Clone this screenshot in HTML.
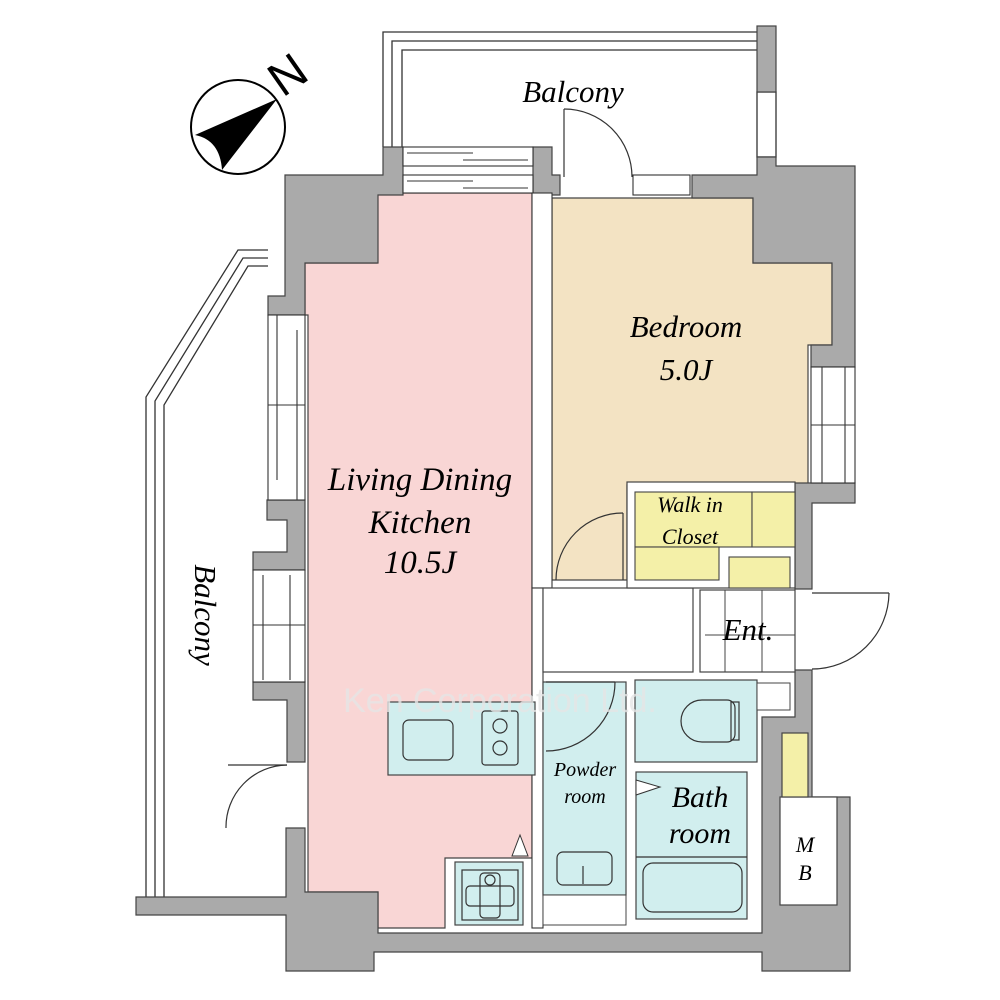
<!DOCTYPE html>
<html><head><meta charset="utf-8"><style>html,body{margin:0;padding:0;background:#fff}svg{display:block}</style></head>
<body>
<svg width="1000" height="1000" viewBox="0 0 1000 1000" xmlns="http://www.w3.org/2000/svg" font-family="'Liberation Serif',serif" font-style="italic">
<rect width="1000" height="1000" fill="#fff"/>
<g fill="none" stroke="#333" stroke-width="1.3">
<!-- top balcony lines -->
<polyline points="383,147 383,32 757,32"/>
<polyline points="392,147 392,41 757,41"/>
<polyline points="402,147 402,50 757,50"/>
<rect x="757" y="92" width="19" height="65" fill="#fff"/>
<!-- left balcony -->
<polyline points="268,250 238,250 146,397 146,897"/>
<polyline points="268,258 243,258 155,401 155,897"/>
<polyline points="268,266 248,266 164,405 164,897"/>
</g>
<!-- rooms -->
<polygon points="377,193 532,193 532,858 445,858 445,928 378,928 378,892 308,892 308,315 305,315 305,263 377,263" fill="#f9d6d5" stroke="#444" stroke-width="1.2"/>
<polygon points="552,198 753,198 753,263 832,263 832,345 808,345 808,485 627,485 627,580 552,580" fill="#f3e3c3" stroke="#444" stroke-width="1.2"/>
<!-- walls -->
<g fill="#aaa" stroke="#444" stroke-width="1.2">
<polygon points="285,175 383,175 383,147 403,147 403,195 378,195 378,263 305,263 305,315 268,315 268,296 285,296"/>
<polygon points="533,147 552,147 552,175 560,175 560,195 533,195"/>
<rect x="757" y="26" width="19" height="66"/>
<polygon points="692,175 757,175 757,157 776,157 776,166 855,166 855,367 811,367 811,345 832,345 832,263 753,263 753,198 692,198"/>
<polygon points="795,483 855,483 855,503 812,503 812,589 795,589"/>
<polygon points="795,670 812,670 812,797 850,797 850,971 762,971 762,952 374,952 374,971 286,971 286,915 136,915 136,897 286,897 286,828 305,828 305,892 378,892 378,933 762,933 762,717 795,717"/>
<polygon points="267,500 305,500 305,570 253,570 253,552 287,552 287,520 267,520"/>
<polygon points="253,682 305,682 305,762 287,762 287,700 253,700"/>
</g>
<!-- MB -->
<rect x="780" y="797" width="57" height="108" fill="#fff" stroke="#444" stroke-width="1.2"/>
<rect x="782" y="733" width="26" height="64" fill="#f4f0a8" stroke="#444" stroke-width="1.2"/>
<!-- windows -->
<g fill="#fff" stroke="#333" stroke-width="1.1">
<rect x="403" y="147" width="130" height="19"/><rect x="403" y="175" width="130" height="18"/>
<line x1="407" y1="153" x2="473" y2="153"/><line x1="463" y1="160" x2="528" y2="160"/>
<line x1="407" y1="181" x2="473" y2="181"/><line x1="463" y1="188" x2="528" y2="188"/>
<rect x="633" y="175" width="57" height="20"/>
<rect x="268" y="315" width="37" height="185"/>
<line x1="277" y1="315" x2="277" y2="480"/><line x1="297" y1="330" x2="297" y2="500"/>
<line x1="268" y1="405" x2="305" y2="405"/>
<rect x="253" y="570" width="52" height="112"/>
<line x1="263" y1="575" x2="263" y2="680"/><line x1="290" y1="575" x2="290" y2="680"/><line x1="253" y1="625" x2="305" y2="625"/>
<rect x="811" y="367" width="44" height="116"/>
<line x1="822" y1="367" x2="822" y2="483"/><line x1="845" y1="367" x2="845" y2="483"/><line x1="811" y1="425" x2="855" y2="425"/>
<rect x="532" y="193" width="20" height="395"/>
<rect x="532" y="588" width="11" height="340"/>
</g>
<!-- hallway / ent -->
<rect x="543" y="588" width="150" height="84" fill="#fff" stroke="#444" stroke-width="1.2"/>
<rect x="700" y="590" width="95" height="82" fill="#fff" stroke="#444" stroke-width="1.2"/>
<g stroke="#444" stroke-width="1"><line x1="725" y1="590" x2="725" y2="672"/><line x1="762" y1="590" x2="762" y2="672"/><line x1="705" y1="635" x2="795" y2="635"/></g>
<!-- WIC -->
<rect x="627" y="482" width="168" height="106" fill="#fff" stroke="#444" stroke-width="1.2"/>
<g fill="#f4f0a8" stroke="#444" stroke-width="1.1">
<rect x="635" y="492" width="117" height="55"/><rect x="752" y="492" width="43" height="55"/>
<rect x="635" y="547" width="84" height="33"/><rect x="729" y="557" width="61" height="31"/>
</g>
<!-- wet rooms -->
<g fill="#d1eeee" stroke="#444" stroke-width="1.2">
<rect x="635" y="680" width="122" height="82"/>
<rect x="543" y="682" width="83" height="213"/>
<rect x="636" y="772" width="111" height="147"/>
<rect x="388" y="702" width="147" height="73"/>
<rect x="455" y="862" width="68" height="63"/>
</g>
<rect x="757" y="683" width="33" height="27" fill="#fff" stroke="#444"/>
<rect x="543" y="895" width="83" height="30" fill="#fff" stroke="#444"/>
<g fill="none" stroke="#333" stroke-width="1.2">
<path d="M727,700 h-25 a21,21 0 0 0 0,42 h25 a8,8 0 0 0 8,-8 v-26 a8,8 0 0 0 -8,-8z"/><rect x="731" y="702" width="8" height="38"/>
<rect x="557" y="852" width="55" height="33" rx="6"/><line x1="583" y1="866" x2="583" y2="884"/>
<rect x="643" y="863" width="99" height="49" rx="10"/><line x1="636" y1="857" x2="747" y2="857"/>
<rect x="403" y="720" width="50" height="40" rx="6"/>
<rect x="482" y="711" width="36" height="54" rx="3"/><circle cx="500" cy="726" r="7"/><circle cx="500" cy="748" r="7"/>
<rect x="462" y="870" width="56" height="50"/><rect x="480" y="873" width="20" height="45" rx="4"/><rect x="466" y="886" width="48" height="20" rx="4"/><circle cx="490" cy="880" r="5"/>
<!-- doors -->
<line x1="564" y1="109" x2="564" y2="177"/><path d="M564,109 A68,68 0 0 1 632,177"/>
<line x1="623" y1="513" x2="623" y2="580"/><path d="M623,513 A67,67 0 0 0 556,580"/>
<line x1="812" y1="593" x2="889" y2="593"/><path d="M889,593 A77,77 0 0 1 812,669"/>
<line x1="546" y1="682" x2="615" y2="682"/><path d="M615,682 A69,69 0 0 1 546,751"/>
<line x1="287" y1="765" x2="228" y2="765"/><path d="M287,765 A62,62 0 0 0 226,828"/>
</g>
<polygon points="636,780 660,787 636,795" fill="#fff" stroke="#333"/>
<polygon points="520,835 512,856 528,856" fill="#fff" stroke="#333"/>
<!-- compass -->
<circle cx="238" cy="127" r="47" fill="#fff" stroke="#000" stroke-width="2"/>
<path d="M277,99 L195,135 Q220,140 222,170 Z" fill="#000"/>
<text x="297" y="88" font-size="48" font-style="normal" font-family="'Liberation Sans',sans-serif" transform="rotate(-35 297 88)" text-anchor="middle" fill="#000">N</text>
<!-- watermark -->
<text x="500" y="712" font-size="34" font-style="normal" font-family="'Liberation Sans',sans-serif" text-anchor="middle" fill="#e6e6e6" opacity="0.8">Ken Corporation Ltd.</text>
<!-- labels -->
<g fill="#000" text-anchor="middle">
<text x="573" y="102" font-size="31">Balcony</text>
<text x="686" y="337" font-size="31">Bedroom</text>
<text x="686" y="380" font-size="31">5.0J</text>
<text x="420" y="490" font-size="33">Living Dining</text>
<text x="420" y="533" font-size="33">Kitchen</text>
<text x="420" y="573" font-size="33">10.5J</text>
<text x="690" y="512" font-size="22">Walk in</text>
<text x="690" y="544" font-size="22">Closet</text>
<text x="748" y="640" font-size="31">Ent.</text>
<text x="585" y="776" font-size="20">Powder</text>
<text x="585" y="803" font-size="20">room</text>
<text x="700" y="807" font-size="30">Bath</text>
<text x="700" y="843" font-size="30">room</text>
<text x="805" y="852" font-size="22">M</text>
<text x="805" y="880" font-size="22">B</text>
<text x="0" y="0" font-size="31" transform="translate(195,615) rotate(90)">Balcony</text>
</g>
</svg>
</body></html>
